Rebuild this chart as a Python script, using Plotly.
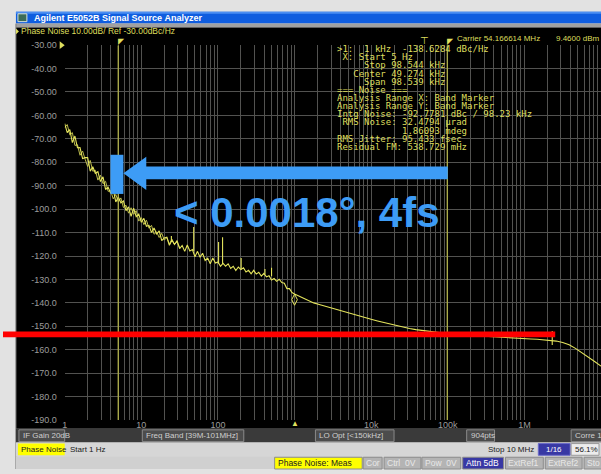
import numpy as np
import plotly.graph_objects as go

W, H = 601, 474

# ---- measured trace: 1 Hz .. 1 kHz (30 points / decade) ----
low_freq = np.logspace(0, 3, 91)
low_dbc = [
    -63.5, -67.3, -66.0, -71.6, -68.8, -73.8, -73.7, -78.4, -78.0, -78.0,
    -83.8, -81.9, -84.7, -84.0, -88.2, -86.2, -91.6, -90.6, -93.2, -91.6,
    -96.9, -94.8, -97.3, -96.5, -100.6, -99.0, -103.1, -99.6, -103.2, -102.1,
    -105.6, -103.9, -107.3, -106.9, -110.0, -108.0, -110.6, -109.3, -113.4, -112.3,
    -112.0, -115.4, -113.3, -115.1, -113.4, -116.8, -115.5, -118.0, -115.3, -117.8,
    -117.2, -120.3, -118.0, -120.5, -118.8, -121.9, -120.9, -123.3, -120.8, -123.0,
    -122.5, -124.4, -123.1, -124.3, -123.3, -125.3, -124.4, -126.2, -124.7, -125.8,
    -125.0, -126.8, -126.1, -127.6, -126.1, -127.7, -126.9, -128.6, -127.4, -128.9,
    -128.4, -130.2, -129.6, -130.8, -129.9, -131.3, -131.6, -133.9, -133.9, -135.6,
    -136.2,
]

# memory trace overlaid at the close-in offsets (first 46 sweep points)
memory_dbc = [
    -65.2, -63.9, -68.3, -67.3, -72.8, -72.5, -77.0, -75.2, -78.7, -81.8,
    -79.2, -83.8, -83.4, -87.6, -85.5, -89.1, -88.1, -92.4, -92.1, -95.6,
    -93.7, -96.9, -95.2, -99.3, -98.3, -101.7, -99.4, -102.2, -100.6, -105.1,
    -103.6, -106.6, -104.7, -108.1, -106.9, -110.7, -109.7, -112.1, -110.3, -113.2,
    -112.1, -114.9, -112.8, -115.1, -114.0, -116.4,
]

# ---- measured trace: 1 kHz .. 10 MHz (12 points / decade) ----
high_freq = np.logspace(3 + 1 / 12, 7, 48)
high_dbc = [
    -137.4, -138.9, -140.0, -140.8, -141.6, -142.5, -143.3, -144.1, -144.9, -145.6,
    -146.3, -147.0, -147.7, -148.4, -149.1, -149.8, -150.4, -150.9, -151.4, -151.8,
    -152.2, -152.5, -152.8, -153.0, -153.3, -153.5, -153.7, -153.9, -154.1, -154.3,
    -154.5, -154.7, -154.8, -155.0, -155.1, -155.3, -155.4, -155.5, -155.7, -155.9,
    -156.3, -156.9, -157.9, -159.4, -161.2, -163.1, -165.0, -167.0,
]

# discrete spurs: frequency, floor, peak
spur_freq = [24.7, 48.3, 102, 115, 201, 411, 501, 2.31e6]
spur_floor = [-114.0, -118.0, -123.3, -123.4, -125.8, -127.9, -128.6, -158.0]
spur_peak = [-111.5, -107.6, -114.0, -112.0, -120.8, -125.5, -125.0, -152.0]

# marker / band readout
marker_hz = 1000
marker_dbc = -138.6284
band_start_hz = 5
band_stop_hz = 98544
band_center_hz = 49274

# axes
x_decades = [1, 10, 100, 1e3, 1e4, 1e5, 1e6, 1e7]
x_decade_labels = ["1", "10", "100", "", "10k", "100k", "1M", "10M"]
y_ticks = [-30, -40, -50, -60, -70, -80, -90, -100, -110, -120,
           -130, -140, -150, -160, -170, -180, -190]
y_tick_labels = ["-30.00", "-40.00", "-50.00", "-60.00", "-70.00", "-80.00",
                 "-90.00", "-100.0", "-110.0", "-120.0", "-130.0", "-140.0",
                 "-150.0", "-160.0", "-170.0", "-180.0", "-190.0"]

TRACE = "#e4e45c"
YEL = "#dede5e"
GRID = "#525250"
SANS = "Liberation Sans, Arial, sans-serif"
MONO = "DejaVu Sans Mono, monospace"

# full grid: every 1..9 x decade
grid_vals, grid_text = [], []
for d, lab in zip(x_decades, x_decade_labels):
    for m in range(1, 10):
        v = d * m
        if v > 1e7:
            break
        grid_vals.append(v)
        grid_text.append(lab if m == 1 else "")

freq = list(low_freq) + list(high_freq)
dbc = low_dbc + high_dbc

fig = go.Figure()
fig.add_trace(go.Scatter(x=list(low_freq[:len(memory_dbc)]), y=memory_dbc, mode="lines",
                         line=dict(color="#bcbc4c", width=1), hoverinfo="skip"))
fig.add_trace(go.Scatter(x=freq, y=dbc, mode="lines",
                         line=dict(color=TRACE, width=1.1), hoverinfo="skip"))

sx, sy = [], []
for f, lo, hi in zip(spur_freq, spur_floor, spur_peak):
    sx += [f, f, None]
    sy += [lo, hi, None]
fig.add_trace(go.Scatter(x=sx, y=sy, mode="lines",
                         line=dict(color=TRACE, width=1.1), hoverinfo="skip"))

# band marker lines
for f in (band_start_hz, band_stop_hz):
    fig.add_trace(go.Scatter(x=[f, f], y=[-30, -190], mode="lines",
                             line=dict(color="#b8b84a", width=1.2), hoverinfo="skip"))

# active marker
fig.add_trace(go.Scatter(x=[marker_hz], y=[marker_dbc], mode="markers",
                         marker=dict(symbol="diamond-tall-open", size=8,
                                     color=TRACE, line=dict(width=1, color=TRACE)),
                         hoverinfo="skip"))


def pxx(x):
    return x / W


def pyy(y):
    return 1 - y / H


shapes = []


def rect(x0, y0, x1, y1, fill, line=None, layer="below"):
    shapes.append(dict(type="rect", xref="paper", yref="paper",
                       x0=pxx(x0), x1=pxx(x1), y0=pyy(y1), y1=pyy(y0),
                       fillcolor=fill, layer=layer,
                       line=dict(width=1 if line else 0, color=line or fill)))


def poly(points, fill, layer="below"):
    path = "M " + " L ".join(f"{pxx(x)},{pyy(y)}" for x, y in points) + " Z"
    shapes.append(dict(type="path", xref="paper", yref="paper", path=path,
                       fillcolor=fill, line=dict(width=0), layer=layer))


annotations = []


def text(x, y, s, size, color, anchor="left", family=SANS, bold=False, bg=None):
    if bold:
        s = "<b>" + s + "</b>"
    annotations.append(dict(x=pxx(x), y=pyy(y), xref="paper", yref="paper",
                            text=s.replace(" ", "\u00a0"), showarrow=False,
                            xanchor=anchor, yanchor="middle",
                            font=dict(size=size, color=color, family=family),
                            borderpad=0, bgcolor=bg))


# window chrome
rect(13, 7, 601, 19, "#0f5ddf")
rect(13, 7, 601, 9, "#4b8ef2")
rect(15, 9, 24, 17, "#3c6c58", line="#d8e4dc")
text(30, 13, "Agilent E5052B Signal Source Analyzer", 9, "white", bold=True)
rect(13, 19, 601, 23, "#a0a0a0")
rect(13, 23, 601, 433, "#000000")
shapes.append(dict(type="line", xref="paper", yref="paper", x0=pxx(13), x1=pxx(13),
                   y0=pyy(474), y1=pyy(19), line=dict(color="#7c7c7c", width=1), layer="below"))

# screen header
poly([(13, 24), (16, 27), (13, 30)], YEL)
text(17, 27, "Phase Noise 10.00dB/ Ref -30.00dBc/Hz", 8.5, YEL)
poly([(57, 37), (62, 41), (57, 45)], YEL)
text(455, 34, "Carrier 54.166614 MHz", 8, YEL)
text(555, 34, "9.4600 dBm", 8, YEL)

# band flags / centre mark
for f in (band_start_hz, band_stop_hz):
    annotations.append(dict(x=np.log10(f), y=pyy(36), xref="x", yref="paper",
                            text="\u25e4", showarrow=False, xanchor="left", xshift=-2,
                            yanchor="middle", font=dict(size=8, color=YEL)))
annotations.append(dict(x=np.log10(band_center_hz), y=pyy(36), xref="x", yref="paper",
                        text="\u22a4", showarrow=False, xanchor="center",
                        yanchor="middle", font=dict(size=10, color=YEL, family=SANS)))
annotations.append(dict(x=np.log10(marker_hz), y=pyy(428), xref="x", yref="paper",
                        text="\u25b2", showarrow=False, xanchor="center",
                        yanchor="middle", font=dict(size=8, color=YEL, family=SANS)))

# marker readout block
readout = [
    f">1:  1 kHz  {marker_dbc:.4f} dBc/Hz",
    f" X: Start {band_start_hz} Hz",
    f"     Stop {band_stop_hz / 1000:.3f} kHz",
    f"   Center {band_center_hz / 1000:.3f} kHz",
    "     Span 98.539 kHz",
    "=== Noise ===",
    "Analysis Range X: Band Marker",
    "Analysis Range Y: Band Marker",
    "Intg Noise: -92.7781 dBc / 98.23 kHz",
    " RMS Noise: 32.4794 \u03bcrad",
    "            1.86093 mdeg",
    "RMS Jitter: 95.433 fsec",
    "Residual FM: 538.729 mHz",
]
for k, line in enumerate(readout):
    text(335, 45 + 8.33 * k, line, 9, YEL, family=MONO)

# status rows
rect(13, 433, 601, 447, "#3a3a3a")
ST = "#cfcfcf"
for x0, x1, lab in [(16, 62, "IF Gain 20dB"), (140, 242, "Freq Band [39M-101MHz]"),
                    (314, 393, "LO Opt [<150kHz]"), (466, 494, "904pts"),
                    (571, 603, "Corre 1")]:
    rect(x0, 434, x1, 446, "#4c4c4c", line="#8a8a8a")
    text(x0 + 3, 440, lab, 8, ST)

rect(13, 447, 601, 461, "#d6d6d6")
rect(15, 448, 62, 460, "#ffff00")
text(17, 454, "Phase Noise", 8, "#202020")
text(66, 454, "Start 1 Hz", 8, "#202020")
text(535, 454, "Stop 10 MHz", 8, "#202020", anchor="right")
rect(538, 448, 570, 460, "#3838a4", line="#6a6ac8")
text(554, 454, "1/16", 8, "white", anchor="center")
rect(571, 448, 599, 460, "#ececec", line="#9a9a9a")
text(574, 454, "56.1%", 8, "#202020")

rect(13, 461, 601, 474, "#d0d0d0")
for x0, x1, lab, fill, col in [
        (273, 361, "Phase Noise: Meas", "#ffff00", "#202020"),
        (362, 381, "Cor", "#b4b4b4", "#e8e8e8"),
        (383, 420, "Ctrl  0V", "#b4b4b4", "#e8e8e8"),
        (421, 460, "Pow  0V", "#b4b4b4", "#e8e8e8"),
        (462, 503, "Attn 5dB", "#3838a4", "white"),
        (505, 543, "ExtRef1", "#b4b4b4", "#e8e8e8"),
        (545, 582, "ExtRef2", "#b4b4b4", "#e8e8e8"),
        (584, 620, "Sto", "#b4b4b4", "#e8e8e8")]:
    rect(x0, 462, x1, 474, fill, line="#8c8c8c")
    text(x0 + 2, 468, lab, 8.5, col)

# overlay: reference level line and jitter callout
rect(0, 333.5, 555, 339.5, "#ff0000", layer="above")
BLUE = "#3d9cf6"
poly([(108, 153), (121, 153), (121, 193), (108, 193)], BLUE, layer="above")
poly([(121, 172), (144, 155), (144, 165), (447, 165), (447, 178),
      (144, 178), (144, 189)], BLUE, layer="above")
annotations.append(dict(x=pxx(171), y=pyy(212), xref="paper", yref="paper",
                        text="<b>&lt; 0.0018\u00b0, 4fs</b>", showarrow=False,
                        xanchor="left", yanchor="middle", borderpad=0,
                        font=dict(size=42, color=BLUE, family=SANS)))

fig.update_layout(
    width=W, height=H, autosize=False,
    margin=dict(l=0, r=0, t=0, b=0, pad=0),
    paper_bgcolor="#e2e2e2", plot_bgcolor="#000000",
    showlegend=False, shapes=shapes, annotations=annotations,
    xaxis=dict(type="log", range=[0, 7], domain=[62 / W, 1],
               tickvals=grid_vals, ticktext=grid_text, ticks="",
               showgrid=True, gridcolor=GRID, gridwidth=1, zeroline=False,
               showline=False, ticklabelstandoff=-2,
               tickfont=dict(size=9, color="#9c9c9c", family=SANS)),
    yaxis=dict(range=[-190, -30], domain=[1 - 424 / H, 1 - 41 / H],
               tickvals=y_ticks, ticktext=y_tick_labels, ticks="",
               showgrid=True, gridcolor=GRID, gridwidth=1, zeroline=False,
               showline=False, ticklabelstandoff=7,
               tickfont=dict(size=9, color="#9c9c9c", family=SANS)),
)

fig.write_html("out.html")
